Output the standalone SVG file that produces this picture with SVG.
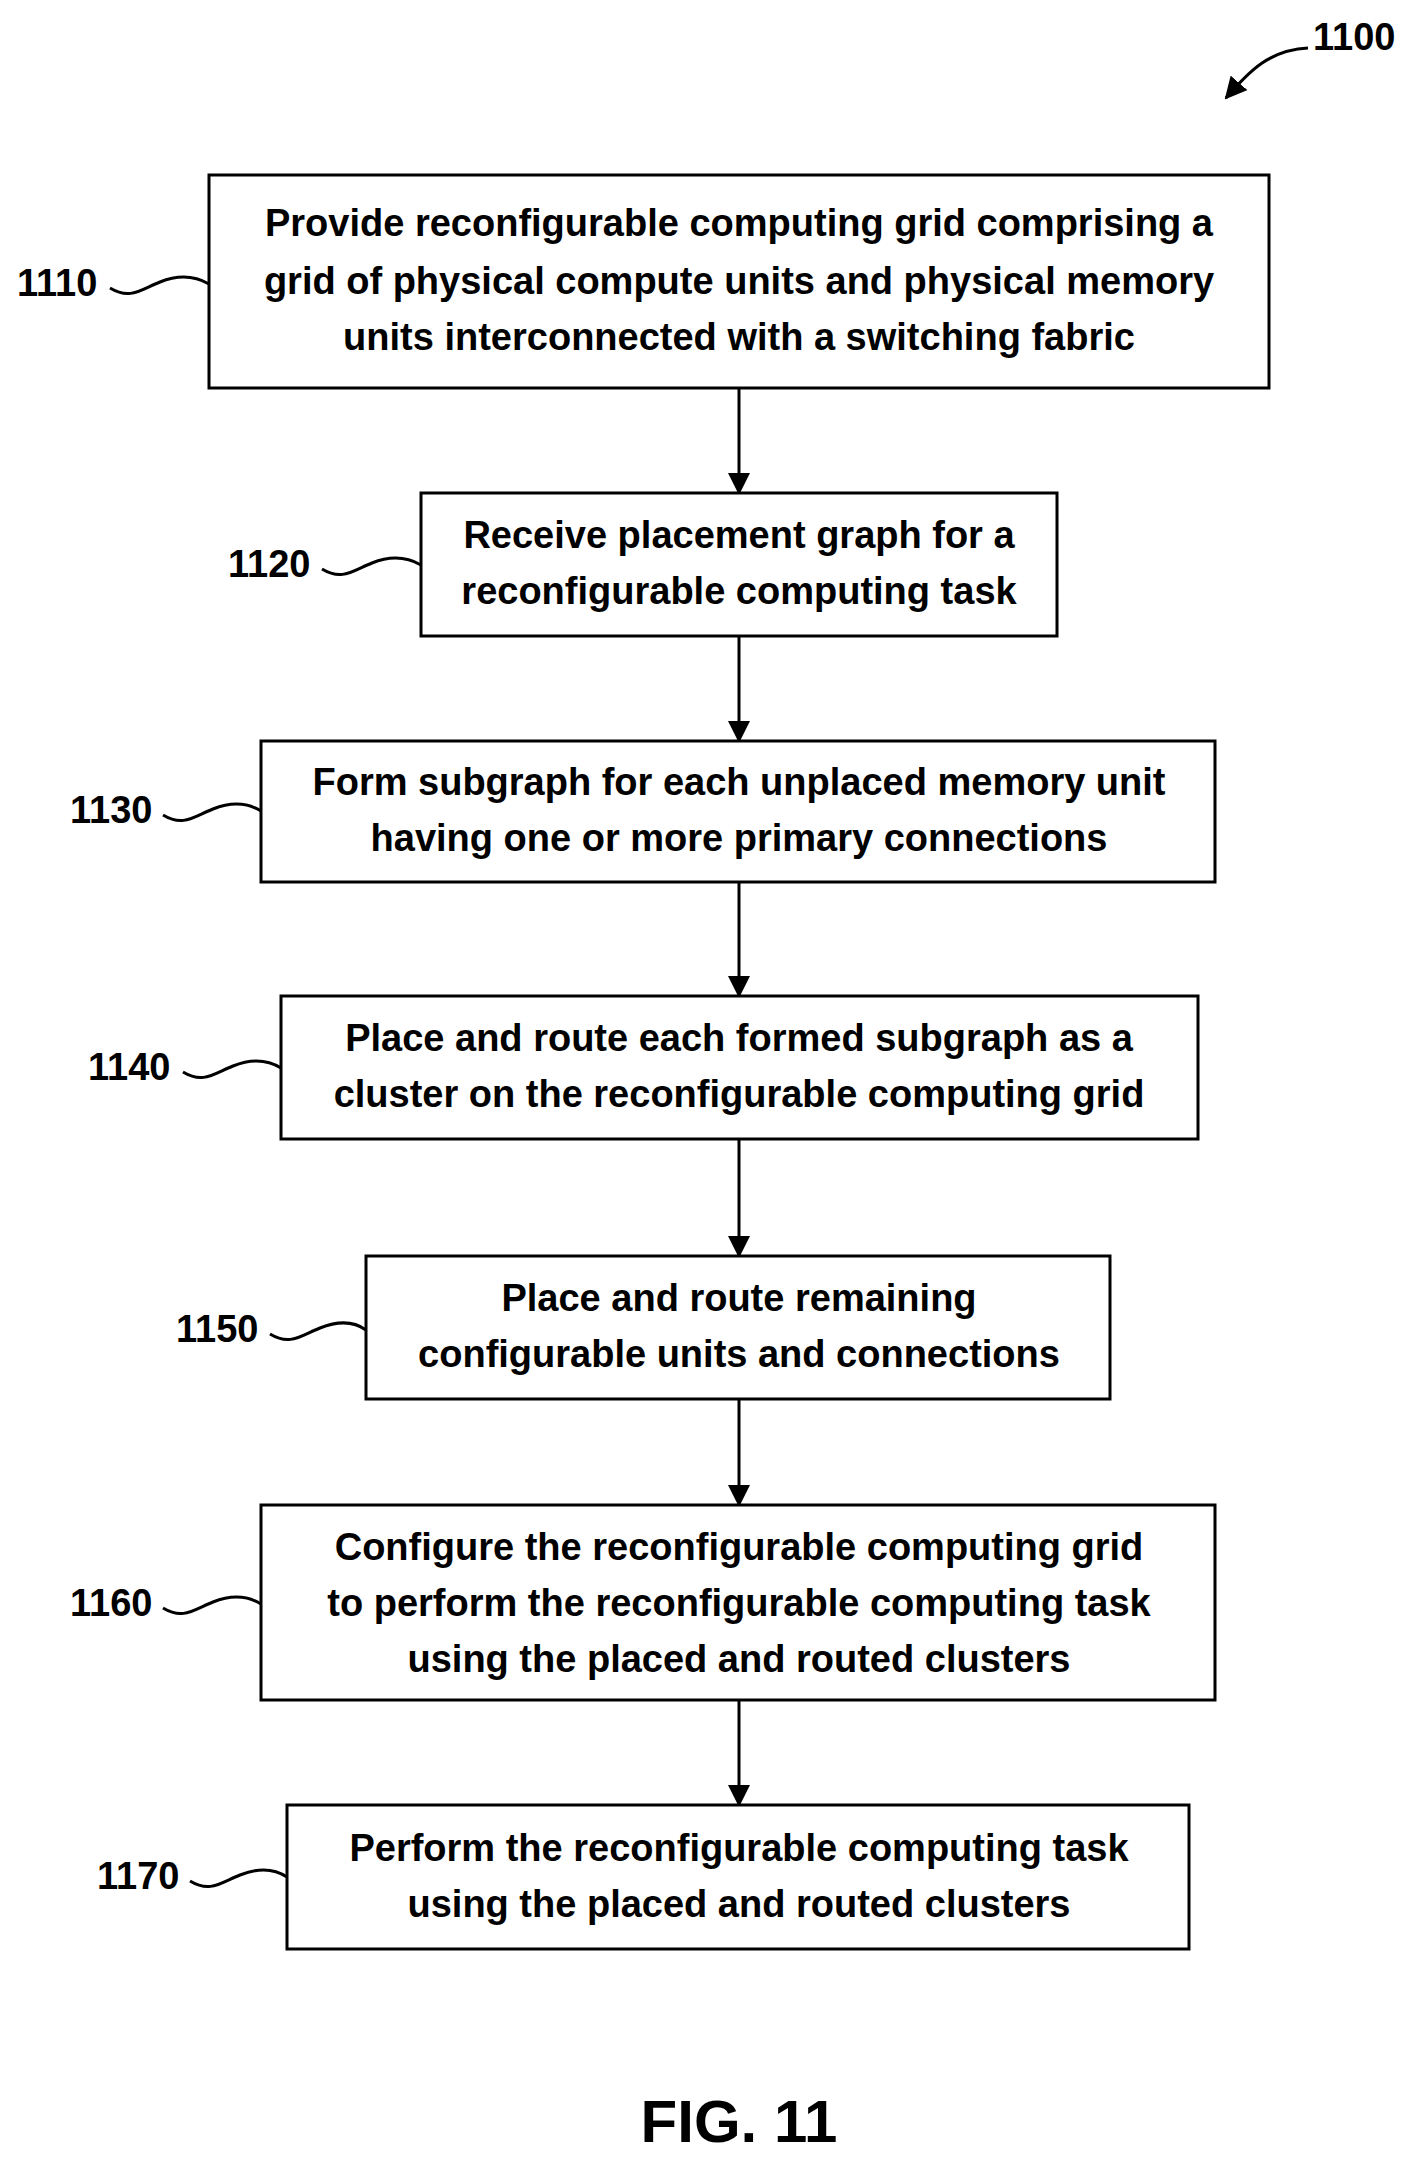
<svg xmlns="http://www.w3.org/2000/svg" width="1415" height="2163" viewBox="0 0 1415 2163">
<style>
.b{fill:#fff;stroke:#000;stroke-width:3}
.t{font-family:"Liberation Sans",Arial,sans-serif;font-weight:bold;font-size:38px;text-anchor:middle;fill:#000}
.l{font-family:"Liberation Sans",Arial,sans-serif;font-weight:bold;font-size:38px;fill:#000}
.c{fill:none;stroke:#000;stroke-width:3}
</style>
<defs><marker id="a" markerWidth="10" markerHeight="10" refX="9" refY="5" orient="auto" markerUnits="userSpaceOnUse" viewBox="0 0 10 10"><path d="M0,0L10,5L0,10z"/></marker>
<marker id="m" markerWidth="22" markerHeight="22" refX="20" refY="11" orient="auto" markerUnits="userSpaceOnUse" viewBox="0 0 22 22"><path d="M0,0L22,11L0,22z"/></marker></defs>
<rect width="1415" height="2163" fill="#fff"/>
<g id="connectors">
<line class="c" x1="739" y1="388" x2="739" y2="493" marker-end="url(#m)"/>
<line class="c" x1="739" y1="636" x2="739" y2="741" marker-end="url(#m)"/>
<line class="c" x1="739" y1="882" x2="739" y2="996" marker-end="url(#m)"/>
<line class="c" x1="739" y1="1139" x2="739" y2="1256" marker-end="url(#m)"/>
<line class="c" x1="739" y1="1399" x2="739" y2="1505" marker-end="url(#m)"/>
<line class="c" x1="739" y1="1700" x2="739" y2="1805" marker-end="url(#m)"/>
<path class="c" d="M1308,48 C1270,50 1250,70 1226,98" marker-end="url(#m)"/>
</g>
<g id="n1100"><text class="l" x="1313" y="50">1100</text></g>
<g id="n1110"><rect class="b" x="209" y="175" width="1060" height="213"/>
<text class="t" x="739" y="236">Provide reconfigurable computing grid comprising a</text>
<text class="t" x="739" y="294">grid of physical compute units and physical memory</text>
<text class="t" x="739" y="350">units interconnected with a switching fabric</text>
<text class="l" x="17" y="296">1110</text><path class="c" d="M110,288 C130,300 140,290 160,282 S195,276 209,284"/></g>
<g id="n1120"><rect class="b" x="421" y="493" width="636" height="143"/>
<text class="t" x="739" y="548">Receive placement graph for a</text>
<text class="t" x="739" y="604">reconfigurable computing task</text>
<text class="l" x="228" y="577">1120</text><path class="c" d="M322,569 C342,581 352,571 372,563 S407,557 421,565"/></g>
<g id="n1130"><rect class="b" x="261" y="741" width="954" height="141"/>
<text class="t" x="739" y="795">Form subgraph for each unplaced memory unit</text>
<text class="t" x="739" y="851">having one or more primary connections</text>
<text class="l" x="70" y="823">1130</text><path class="c" d="M163,815 C183,827 193,817 213,809 S248,803 261,811"/></g>
<g id="n1140"><rect class="b" x="281" y="996" width="917" height="143"/>
<text class="t" x="739" y="1051">Place and route each formed subgraph as a</text>
<text class="t" x="739" y="1107">cluster on the reconfigurable computing grid</text>
<text class="l" x="88" y="1080">1140</text><path class="c" d="M183,1072 C203,1084 213,1074 233,1066 S268,1060 281,1068"/></g>
<g id="n1150"><rect class="b" x="366" y="1256" width="744" height="143"/>
<text class="t" x="739" y="1311">Place and route remaining</text>
<text class="t" x="739" y="1367">configurable units and connections</text>
<text class="l" x="176" y="1342">1150</text><path class="c" d="M270,1334 C290,1346 300,1336 320,1328 S355,1322 366,1330"/></g>
<g id="n1160"><rect class="b" x="261" y="1505" width="954" height="195"/>
<text class="t" x="739" y="1560">Configure the reconfigurable computing grid</text>
<text class="t" x="739" y="1616">to perform the reconfigurable computing task</text>
<text class="t" x="739" y="1672">using the placed and routed clusters</text>
<text class="l" x="70" y="1616">1160</text><path class="c" d="M163,1608 C183,1620 193,1610 213,1602 S248,1596 261,1604"/></g>
<g id="n1170"><rect class="b" x="287" y="1805" width="902" height="144"/>
<text class="t" x="739" y="1861">Perform the reconfigurable computing task</text>
<text class="t" x="739" y="1917">using the placed and routed clusters</text>
<text class="l" x="97" y="1889">1170</text><path class="c" d="M190,1881 C210,1893 220,1883 240,1875 S275,1869 287,1877"/></g>
<g id="fig"><text class="t" x="739" y="2142" style="font-size:60px">FIG. 11</text></g>
</svg>
